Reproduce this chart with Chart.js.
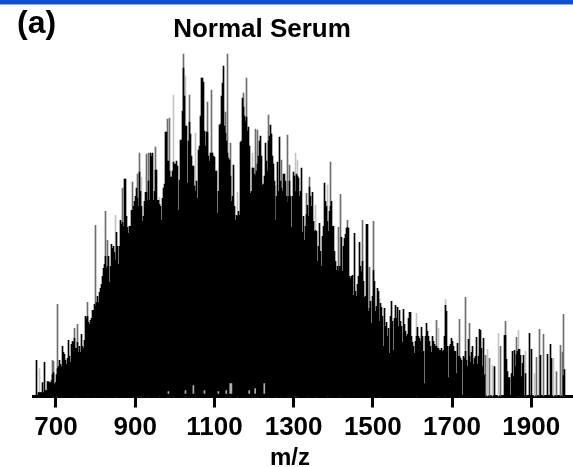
<!DOCTYPE html>
<html>
<head>
<meta charset="utf-8">
<title>Normal Serum</title>
<script src="https://cdn.jsdelivr.net/npm/chart.js@4"></script>
<style>
body { margin: 0; background: #fff; }
#stripe { position: absolute; left: 0; top: 0; width: 573px; height: 4px; background: #0b50d2; border-bottom: 1px solid #8ab0ee; }
canvas { display: block; }
</style>
</head>
<body>
<canvas id="spectrum" width="573" height="467"></canvas>
<div id="stripe"></div>
<script>
var panelLabel = '(a)';
var chartTitle = 'Normal Serum';
var axisTitle = 'm/z';
var xTicks = [700, 900, 1100, 1300, 1500, 1700, 1900];

// m/z of the first bin and width of one bin
var mzStart = 650.8375;
var mzStep = 2.525;

// black body of the spectrum, one value per bin, ten per row
var coreValues = [
    36, 0, 4, 4, 4, 4, 14, 4, 34, 6,
    6, 15, 15, 14, 14, 16, 22, 24, 12, 14,
    22, 28, 30, 36, 32, 30, 50, 44, 42, 36,
    32, 38, 56, 40, 34, 52, 55, 54, 58, 48,
    48, 54, 44, 50, 44, 62, 50, 48, 56, 80,
    78, 80, 74, 72, 76, 78, 86, 86, 92, 90,
    94, 100, 94, 104, 108, 112, 120, 128, 132, 140,
    128, 130, 140, 114, 130, 152, 148, 150, 144, 136,
    164, 150, 132, 150, 176, 172, 174, 170, 217, 217,
    180, 169, 163, 170, 170, 186, 186, 190, 195, 200,
    208, 198, 190, 224, 205, 190, 175, 180, 195, 204,
    204, 196, 215, 196, 243, 240, 243, 196, 205, 226,
    226, 196, 196, 192, 190, 176, 198, 208, 212, 264,
    264, 235, 235, 225, 219, 219, 225, 234, 232, 232,
    235, 230, 186, 216, 256, 256, 285, 328, 300, 270,
    270, 213, 255, 274, 262, 240, 230, 230, 210, 205,
    215, 198, 246, 250, 280, 318, 318, 314, 265, 250,
    264, 264, 240, 235, 243, 243, 243, 240, 239, 225,
    225, 183, 205, 271, 272, 300, 313, 330, 270, 263,
    255, 243, 238, 236, 220, 195, 200, 231, 190, 176,
    181, 180, 185, 181, 254, 255, 298, 289, 280, 275,
    279, 265, 269, 250, 203, 205, 228, 228, 222, 220,
    225, 232, 240, 255, 260, 240, 211, 212, 220, 253,
    235, 225, 255, 260, 271, 262, 240, 232, 215, 176,
    200, 234, 205, 259, 215, 208, 205, 222, 222, 215,
    200, 194, 200, 215, 200, 169, 200, 224, 220, 205,
    222, 220, 218, 200, 205, 228, 164, 180, 156, 170,
    182, 191, 180, 209, 200, 190, 204, 175, 165, 166,
    165, 135, 150, 173, 145, 130, 160, 170, 213, 195,
    190, 175, 165, 185, 190, 195, 170, 170, 145, 135,
    126, 130, 125, 130, 130, 159, 125, 150, 158, 162,
    168, 169, 168, 120, 118, 120, 121, 101, 163, 105,
    100, 112, 120, 154, 130, 125, 135, 115, 99, 100,
    172, 172, 85, 88, 95, 73, 100, 126, 115, 85,
    90, 108, 105, 75, 93, 89, 80, 50, 88, 70,
    74, 60, 68, 43, 80, 95, 75, 46, 78, 91,
    78, 89, 70, 86, 75, 70, 54, 87, 72, 65,
    60, 62, 78, 84, 84, 60, 54, 50, 43, 55,
    60, 69, 60, 58, 55, 69, 60, 45, 13, 60,
    73, 65, 60, 55, 50, 44, 60, 55, 52, 50,
    50, 48, 48, 46, 46, 48, 45, 46, 60, 91,
    85, 50, 19, 50, 52, 58, 55, 50, 45, 45,
    23, 53, 40, 40, 38, 36, 1, 40, 38, 45,
    36, 30, 57, 40, 34, 44, 50, 32, 38, 40,
    59, 32, 40, 67, 66, 48, 30, 58, 22, 0,
    0, 0, 0, 0, 0, 0, 0, 0, 30, 0,
    0, 0, 0, 0, 0, 0, 0, 0, 61, 61,
    37, 25, 19, 19, 0, 23, 45, 20, 46, 30,
    42, 45, 47, 47, 41, 20, 33, 41, 0, 23,
    0, 0, 0, 63, 0, 47, 0, 0, 0, 0,
    0, 0, 0, 0, 41, 0, 0, 0, 0, 0,
    0, 42, 0, 0, 52, 38, 0, 0, 0, 0,
    0, 0, 0, 0, 0, 0, 0, 21, 27, 0, 0
];

// thin grey peaks standing above the body
var tipBins = [16, 17, 21, 38, 41, 51, 59, 69, 71, 86, 96, 101, 103, 110, 112, 119, 131, 133, 147, 153, 171, 175, 189, 191, 194, 207, 210, 219, 221, 232, 245, 251, 253, 270, 273, 294, 302, 304, 311, 326, 333, 337, 400, 423, 429, 433, 449, 453, 464, 469, 480, 500, 503, 507, 520, 524, 526, 527];
var tipValues = [36, 35, 92, 68, 72, 94, 171, 185, 156, 208, 214, 222, 243, 242, 243, 249, 277, 278, 342, 301, 294, 306, 284, 342, 253, 303, 318, 267, 266, 281, 236, 261, 231, 203, 219, 234, 169, 202, 176, 176, 129, 175, 76, 77, 99, 73, 41, 38, 50, 75, 59, 39, 67, 62, 25, 51, 44, 82];

// paler peaks
var faintBins = [3, 79, 105, 123, 137, 149, 159, 201, 216, 239, 259, 261, 279, 291, 343, 380, 402, 409, 451, 456, 462, 482, 489, 498, 517];
var faintValues = [28, 181, 219, 199, 301, 320, 263, 204, 243, 210, 243, 236, 191, 211, 98, 83, 68, 97, 47, 31, 63, 66, 45, 23, 38];

// small pale flecks low inside the body
var fleckMz = [984, 1027, 1047, 1075, 1110, 1130, 1140, 1143, 1188, 1203, 1226];
var fleckLow = [3, 3, 3, 3, 3, 3, 3, 3, 3, 3, 3];
var fleckHigh = [5, 6, 11, 6, 5, 6, 13, 13, 6, 8, 13];

function binPoint(bin, value) {
    return { x: mzStart + bin * mzStep, y: value };
}

var corePoints = coreValues.map(function(v, i) { return binPoint(i, v); });
var tipPoints = tipBins.map(function(b, i) { return binPoint(b, tipValues[i]); });
var faintPoints = faintBins.map(function(b, i) { return binPoint(b, faintValues[i]); });
var fleckPoints = fleckMz.map(function(m, i) { return { x: m, y: [fleckLow[i], fleckHigh[i]] }; });

// title, panel letter and axis name sit off centre in the original
var textPlugin = {
    id: 'panelText',
    afterDraw: function(chart) {
        var ctx = chart.ctx;
        ctx.save();
        ctx.fillStyle = '#000';
        ctx.textBaseline = 'alphabetic';
        ctx.textAlign = 'left';
        ctx.font = 'bold 32px "Liberation Sans"';
        ctx.fillText(panelLabel, 17, 33);
        ctx.font = 'bold 26px "Liberation Sans"';
        ctx.textAlign = 'center';
        ctx.fillText(chartTitle, 262, 37);
        ctx.font = 'bold 24px "Liberation Sans"';
        ctx.fillText(axisTitle, 290, 465);
        ctx.restore();
    }
};

new Chart(document.getElementById('spectrum'), {
    type: 'bar',
    plugins: [textPlugin],
    data: {
        datasets: [
            { label: 'core', data: corePoints, backgroundColor: '#000', order: 1 },
            { label: 'flecks', data: fleckPoints, backgroundColor: '#b0b0b0', order: 0 },
            { label: 'tips', data: tipPoints, backgroundColor: '#6e6e6e', order: 2 },
            { label: 'faint', data: faintPoints, backgroundColor: '#c4c4c4', order: 3 }
        ]
    },
    options: {
        responsive: false,
        animation: false,
        layout: { padding: { left: 33, right: 0, top: 46, bottom: 0 } },
        datasets: { bar: { barThickness: 1, grouped: false, borderWidth: 0 } },
        plugins: { legend: { display: false }, tooltip: { enabled: false } },
        scales: {
            x: {
                type: 'linear',
                offset: false,
                min: 642,
                max: 2005.5,
                afterBuildTicks: function(axis) {
                    axis.ticks = xTicks.map(function(v) { return { value: v }; });
                },
                afterFit: function(axis) { axis.height = 70.5; },
                border: { color: '#000', width: 3 },
                grid: { offset: false, drawOnChartArea: false, tickColor: '#000', tickWidth: 3, tickLength: 11 },
                ticks: {
                    color: '#000',
                    maxRotation: 0,
                    autoSkip: false,
                    padding: 5,
                    font: { family: '"Liberation Sans"', size: 26, weight: 'bold' },
                    callback: function(value) { return String(value); }
                }
            },
            y: { display: false, min: 0, max: 350 }
        }
    }
});
</script>
</body>
</html>
